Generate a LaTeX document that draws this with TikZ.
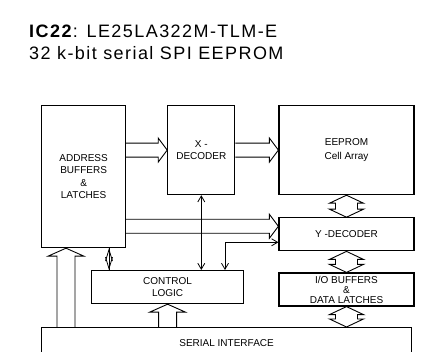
\documentclass[tikz,border=0pt]{standalone}
\usepackage{fontspec}
\setmainfont{Liberation Sans}
\usetikzlibrary{arrows.meta,positioning,calc}
% wide (bus) arrows
\newcommand\fatH[2]{\draw[fat] let \p1=(#1),\p2=(#2) in (\x1,\y1+7pt) -- (\x2-9pt,\y1+7pt) -- (\x2-9pt,\y1+12pt) -- (\x2,\y1) -- (\x2-9pt,\y1-12pt) -- (\x2-9pt,\y1-7pt) -- (\x1,\y1-7pt);}
\newcommand\fatUp[2]{\draw[fat] let \p1=(#1),\p2=(#2) in (\x1-9pt,\y1) -- (\x1-9pt,\y2-8pt) -- (\x1-18pt,\y2-8pt) -- (\x1,\y2) -- (\x1+18pt,\y2-8pt) -- (\x1+9pt,\y2-8pt) -- (\x1+9pt,\y1);}
\newcommand\fatUD[2]{\draw[fat] let \p1=(#1),\p2=(#2) in (\x1,\y1) -- (\x1+17pt,\y1-8pt) -- (\x1+11pt,\y1-8pt) -- (\x1+11pt,\y2+8pt) -- (\x1+17pt,\y2+8pt) -- (\x1,\y2) -- (\x1-17pt,\y2+8pt) -- (\x1-11pt,\y2+8pt) -- (\x1-11pt,\y1-8pt) -- (\x1-17pt,\y1-8pt) -- cycle;}
\begin{document}
\begin{tikzpicture}[x=1pt,y=-1pt,
    blk/.style={draw,line width=1.2pt,inner sep=0pt,align=center,font=\fontsize{10}{12.5}\selectfont},
    fat/.style={line width=0.9pt,line join=miter},
    ln/.style={line width=0.8pt},
    tip/.style={{Straight Barb[length=6pt,width=7pt]}-{Straight Barb[length=6pt,width=7pt]}},
    lens/.style={{Straight Barb[length=11.5pt,width=7pt]}-{Straight Barb[length=11.5pt,width=7pt]}}]
    \useasboundingbox (0,0) rectangle (440,352);
    \clip (0,0) rectangle (440,352);
    \node[anchor=north west,inner sep=0pt,align=left,font=\fontsize{18}{22}\selectfont\addfontfeature{LetterSpace=8}] (title) at (29,24.5) {\textbf{IC22}: LE25LA322M-TLM-E\\32 k-bit serial SPI EEPROM};
    \node[blk,minimum width=84pt,minimum height=142pt,anchor=north west] (addr) at (41,105) {ADDRESS\\BUFFERS\\\&\\LATCHES};
    \node[blk,minimum width=67pt,minimum height=89pt,right=41pt of addr.north east,anchor=north west] (xdec) {X -\\DECODER};
    \node[blk,minimum width=135pt,minimum height=89pt,right=43pt of xdec,font=\fontsize{10}{14}\selectfont] (cell) {EEPROM\\Cell Array};
    \node[blk,minimum width=135pt,minimum height=33pt,below=22pt of cell] (ydec) {Y -DECODER};
    \node[blk,minimum width=135pt,minimum height=33pt,below=21pt of ydec,font=\fontsize{10}{10}\selectfont] (iobuf) {I/O BUFFERS\\\&\\DATA LATCHES};
    \node[blk,minimum width=152pt,minimum height=33pt,anchor=north west] (ctrl) at (91,270) {CONTROL\\LOGIC};
    \node[blk,minimum width=370pt,minimum height=30pt,anchor=north west] (serial) at (41,327) {SERIAL INTERFACE};
    \coordinate (bus) at ($(ydec.west)+(0,-8)$);
    \coordinate (yin) at ($(ydec.west)+(0,8)$);
    \coordinate (aup) at ($(addr.south west)+(25,0)$);
    \coordinate (dm) at ($(addr.south west)+(68,0)$);
    \fatH{addr.east |- xdec.west}{xdec.west}
    \fatH{xdec.east}{cell.west}
    \fatH{addr.east |- bus}{bus}
    \fatUp{serial.north -| aup}{aup}
    \fatUp{serial.north -| ctrl.south}{ctrl.south}
    \fatUD{cell.south}{ydec.north}
    \fatUD{ydec.south}{iobuf.north}
    \fatUD{iobuf.south}{iobuf.south |- serial.north}
    \draw[ln,tip] (xdec.south) -- (xdec.south |- ctrl.north);
    \draw[ln,tip] (yin) -| ($(ctrl.north west)+(134,0)$);
    \draw[ln,lens] (dm) -- (dm |- ctrl.north);
    \draw[ln] (dm) -- (dm |- ctrl.north);
  \end{tikzpicture}
\end{document}
